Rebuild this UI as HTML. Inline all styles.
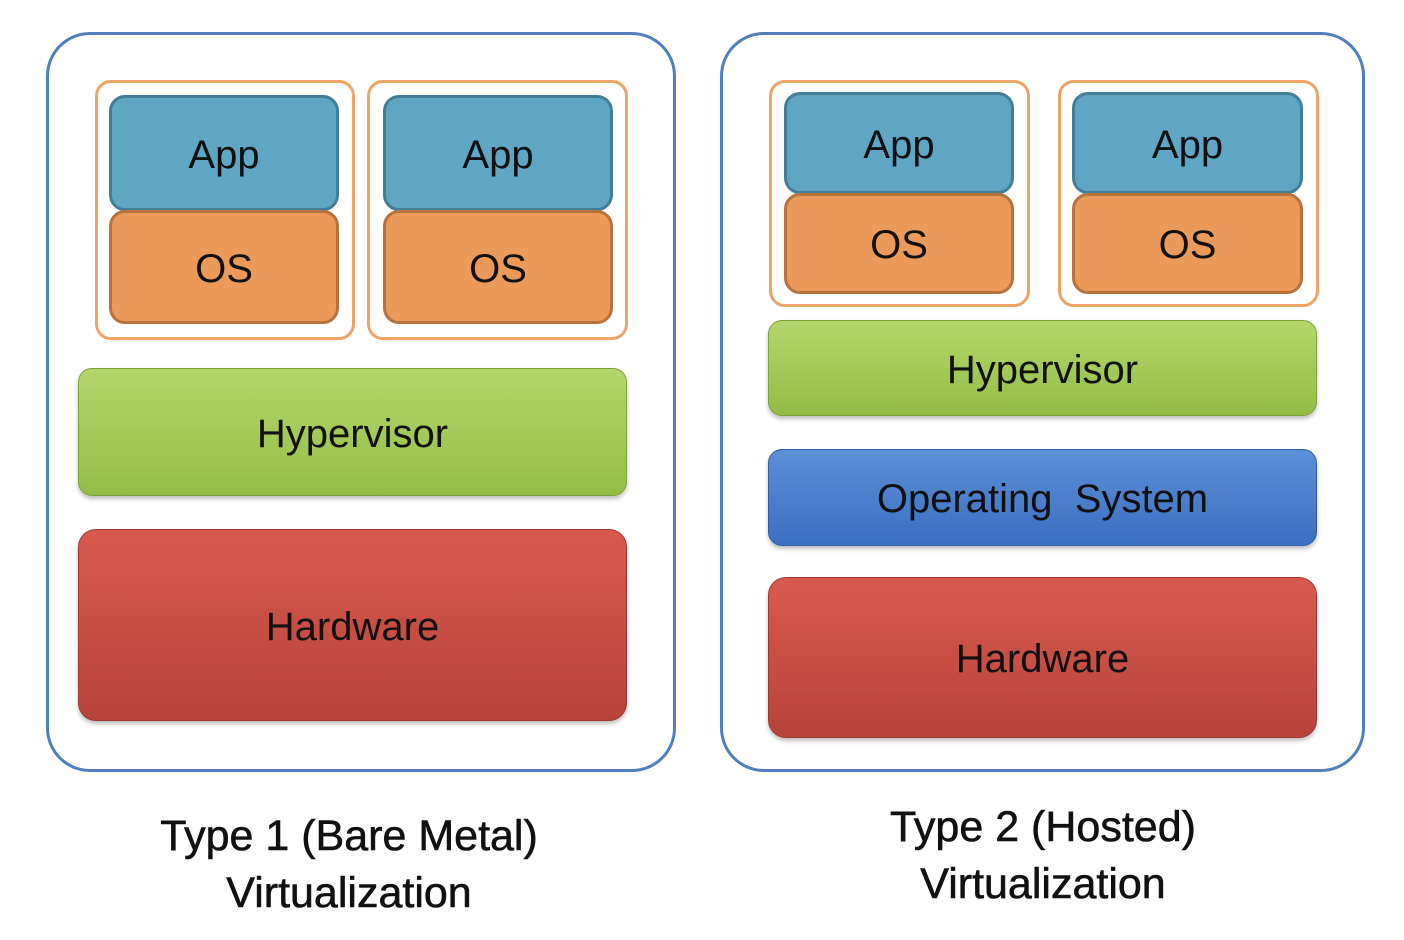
<!DOCTYPE html>
<html><head><meta charset="utf-8"><style>
body{margin:0;width:1404px;height:940px;background:#fff;position:relative;overflow:hidden;font-family:"Liberation Sans",sans-serif}
div{position:absolute;box-sizing:border-box}
.panel{border:3px solid #4f7fbf;border-radius:44px;background:#fff}
.frame{border:3px solid #eda467;border-radius:16px;background:#fff}
.b{display:flex;align-items:center;justify-content:center;color:#111;font-size:40px;border-radius:16px;padding-top:4px}
.app{background:#5fa6c4;border:3px solid #427e97}
.os{background:#eb9a59;border:3px solid #b8733c}
.hyp{background:linear-gradient(#b4d76c,#92bd47);border:1px solid #7ea23c;border-radius:14px;box-shadow:0 3px 4px rgba(0,0,0,.25)}
.sys{background:linear-gradient(#5b8fd6,#3c6fc0);border:1px solid #2f5ea6;border-radius:14px;box-shadow:0 3px 4px rgba(0,0,0,.25)}
.hw{background:linear-gradient(#d85a4e,#b8433a);border:1px solid #9c3a32;border-radius:18px;box-shadow:0 3px 4px rgba(0,0,0,.25)}
.cap{font-family:"Liberation Sans",sans-serif;font-size:43px;color:#111;text-align:center;line-height:57px;width:600px;-webkit-text-stroke:0.6px #111}
</style></head><body>
<div class="panel" style="left:46px;top:32px;width:630px;height:740px"></div>
<div class="panel" style="left:720px;top:32px;width:645px;height:740px"></div>

<div class="frame" style="left:95px;top:80px;width:260px;height:260px"></div>
<div class="frame" style="left:367px;top:80px;width:261px;height:260px"></div>
<div class="b app" style="left:109px;top:95px;width:230px;height:116px">App</div>
<div class="b os" style="left:109px;top:210px;width:230px;height:114px">OS</div>
<div class="b app" style="left:383px;top:95px;width:230px;height:116px">App</div>
<div class="b os" style="left:383px;top:210px;width:230px;height:114px">OS</div>
<div class="b hyp" style="left:78px;top:368px;width:549px;height:128px">Hypervisor</div>
<div class="b hw" style="left:78px;top:529px;width:549px;height:192px">Hardware</div>

<div class="frame" style="left:769px;top:80px;width:261px;height:227px"></div>
<div class="frame" style="left:1058px;top:80px;width:261px;height:227px"></div>
<div class="b app" style="left:784px;top:92px;width:230px;height:102px">App</div>
<div class="b os" style="left:784px;top:193px;width:230px;height:101px">OS</div>
<div class="b app" style="left:1072px;top:92px;width:231px;height:102px">App</div>
<div class="b os" style="left:1072px;top:193px;width:231px;height:101px">OS</div>
<div class="b hyp" style="left:768px;top:320px;width:549px;height:96px">Hypervisor</div>
<div class="b sys" style="left:768px;top:449px;width:549px;height:97px">Operating&nbsp; System</div>
<div class="b hw" style="left:768px;top:577px;width:549px;height:161px">Hardware</div>

<div class="cap" style="left:49px;top:808px">Type 1 (Bare Metal)<br>Virtualization</div>
<div class="cap" style="left:743px;top:799px">Type 2 (Hosted)<br>Virtualization</div>
</body></html>
